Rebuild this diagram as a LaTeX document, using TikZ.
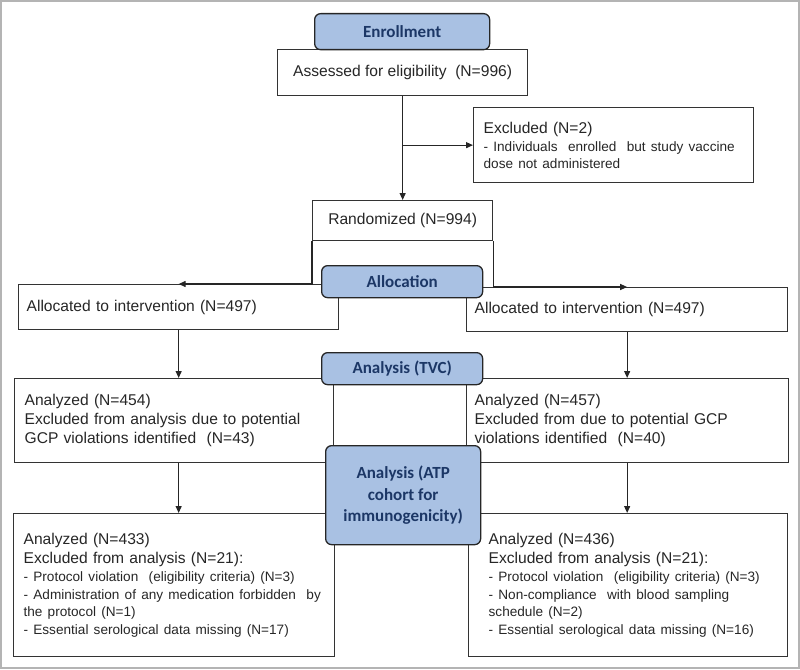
\documentclass[tikz,border=0pt]{standalone}
\usepackage{fontspec}
\setmainfont{Liberation Sans}
\newfontfamily\hdrfont{Carlito}
\usetikzlibrary{arrows.meta}
\definecolor{hdrblue}{HTML}{A9C1E3}
\definecolor{hdrtext}{HTML}{1C3766}
\definecolor{framegray}{HTML}{B4B4B4}
\newcommand{\bigtx}{\fontsize{15.6}{19}\selectfont}
\newcommand{\smtx}{\fontsize{13.6}{17.5}\selectfont}

\begin{document}
\begin{tikzpicture}[x=1pt,y=-1pt,
    box/.style={draw=black!80, line width=1.3pt, anchor=north west, inner sep=0pt, text=black!85, font=\bigtx},
    hdr/.style={draw=black!85, line width=1.3pt, fill=hdrblue, rounded corners=6pt, anchor=north west,
        inner sep=0pt, align=center, text=hdrtext, font=\hdrfont\bfseries\fontsize{17}{21.5}\selectfont},
    arr/.style={-{Triangle[length=7pt,width=6pt]}, line width=1.2pt, black!85}]
    \useasboundingbox (0,0) rectangle (800,669);
    \draw[framegray, line width=2pt] (1,1) rectangle (799,668);

    % Boxes:
    % Top part, before the randomization:
    \node[box, minimum width=250pt, minimum height=46pt] (assess) at (277,49) {Assessed for eligibility\ \ (N=996)};
    \node[box, inner xsep=10pt, text width=260pt, minimum height=75pt, align=left] (excl) at (473,107)
        {Excluded (N=2)\\[-1pt] {\smtx - Individuals\ \ enrolled\ \ but study vaccine}\\[-2pt] {\smtx dose not administered}};
    \node[box, minimum width=180pt, minimum height=40pt] (rand) at (312,200) {Randomized (N=994)};

    % The two arms:
    \node[box, inner xsep=8pt, text width=304pt, minimum height=45pt, align=left] (allocL) at (18,284) {Allocated to intervention (N=497)};
    \node[box, inner xsep=8pt, text width=305pt, minimum height=44pt, align=left] (allocR) at (466,287) {Allocated to intervention (N=497)};

    \node[box, inner xsep=10pt, text width=299pt, minimum height=84pt, align=left] (tvcL) at (14,378)
        {Analyzed (N=454)\\ Excluded from analysis due to potential\\ GCP violations identified\ \ (N=43)};
    \node[box, inner xsep=8pt, text width=306pt, minimum height=84pt, align=left] (tvcR) at (466,378)
        {Analyzed (N=457)\\ Excluded from due to potential GCP\\ violations identified\ \ (N=40)};

    \node[box, inner xsep=10pt, text width=301pt, minimum height=143pt, align=left] (atpL) at (13,513)
        {Analyzed (N=433)\\ Excluded from analysis (N=21):\\[-1pt]
        {\smtx - Protocol violation\ \ (eligibility criteria) (N=3)}\\[-1.5pt]
        {\smtx - Administration of any medication forbidden\ \ by}\\[-1.5pt]
        {\smtx the protocol (N=1)}\\[-1.5pt]
        {\smtx - Essential serological data missing (N=17)}};
    \node[box, inner xsep=20pt, text width=279pt, minimum height=143pt, align=left] (atpR) at (468,513)
        {Analyzed (N=436)\\ Excluded from analysis (N=21):\\[-1pt]
        {\smtx - Protocol violation\ \ (eligibility criteria) (N=3)}\\[-1.5pt]
        {\smtx - Non-compliance\ \ with blood sampling}\\[-1.5pt]
        {\smtx schedule (N=2)}\\[-1.5pt]
        {\smtx - Essential serological data missing (N=16)}};

    % Connectors:
    \draw[arr] (assess.south) -- (rand.north);
    \draw[arr] (assess.south |- excl.west) -- (excl.west);
    \draw[arr] (rand.south west) |- (allocL.north);
    \draw[arr] (rand.south east) |- (allocR.north);
    \draw[arr] (allocL.south) -- (allocL.south |- tvcL.north);
    \draw[arr] (allocR.south) -- (allocR.south |- tvcR.north);
    \draw[arr] (allocL.south |- tvcL.south) -- (allocL.south |- atpL.north);
    \draw[arr] (allocR.south |- tvcR.south) -- (allocR.south |- atpR.north);

    % Stage headers, on top of everything:
    \node[hdr, minimum width=175pt, minimum height=36pt] (enroll) at (314,13) {Enrollment};
    \node[hdr, minimum width=161pt, minimum height=32pt] (alloc) at (321,265) {Allocation};
    \node[hdr, minimum width=161pt, minimum height=32pt] (tvc) at (321,352) {Analysis (TVC)};
    \node[hdr, minimum width=155pt, minimum height=99pt] (atp) at (325,445) {Analysis (ATP\\ cohort for\\ immunogenicity)};
\end{tikzpicture}
\end{document}
